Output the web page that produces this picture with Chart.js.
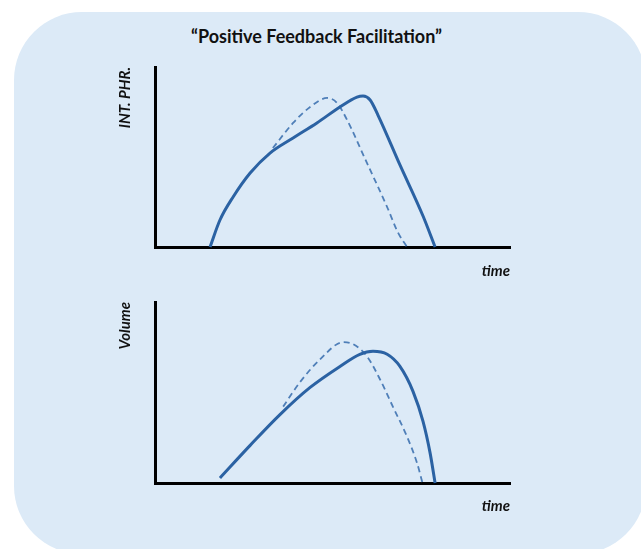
<!DOCTYPE html>
<html>
<head>
<meta charset="utf-8">
<script src="https://cdn.jsdelivr.net/npm/chart.js@4.4.1/dist/chart.umd.min.js"></script>
<style>
  html, body { margin: 0; padding: 0; background: #ffffff; }
  body { width: 641px; height: 549px; overflow: hidden; position: relative; }
  #panel {
    position: absolute; left: 14px; top: 12px; width: 632px; height: 542px;
    background: #dceaf7; border-radius: 68px;
  }
  #title {
    position: absolute; left: 0; top: 25px; width: 633px; text-align: center;
    font: bold 18px Lato, "Liberation Sans", sans-serif; color: #111;
  }
  canvas { position: absolute; left: 0; }
  #top { top: 55px; }
  #bottom { top: 290px; }
</style>
</head>
<body>
<div id="panel"></div>
<div id="title">“Positive Feedback Facilitation”</div>
<canvas id="top" width="641" height="235"></canvas>
<canvas id="bottom" width="641" height="235"></canvas>
<script>
// top panel: INT. PHR. vs time
const topSolidX = [15.5, 18.3, 22.0, 26.8, 32.4, 38.9, 45.6, 52.1, 56.9, 58.6, 60.6, 62.8, 69.0, 75.5, 78.9];
const topSolidY = [0, 15, 27.8, 41.1, 52.2, 60.6, 68.9, 77.8, 83.3, 83.9, 81.7, 73.3, 45.6, 17.2, 0];
const topDashX = [33.2, 38.9, 43.7, 48.5, 51.3, 54.1, 59.7, 65.4, 68.5, 71.0];
const topDashY = [55, 68.9, 77.8, 82.8, 80, 70.6, 46.7, 22.2, 7.8, 0];

// bottom panel: Volume vs time
const botSolidX = [18.3, 26.8, 35.2, 43.7, 52.1, 57.7, 61.4, 65.4, 69.0, 72.7, 75.5, 77.5, 78.9];
const botSolidY = [2.8, 20.8, 37.8, 52.8, 64.4, 71.1, 72.8, 71.1, 64.4, 50.5, 34, 16.5, 0];
const botDashX = [36.1, 40.8, 46.5, 53.0, 55.8, 59.7, 63.4, 67.0, 71.0, 73.8, 75.5];
const botDashY = [42.2, 55.6, 68.3, 77.8, 76.7, 70, 57.2, 42.2, 25.6, 11.1, -1.1];

const lineColor = '#2b62a3';
const pts = (xs, ys) => xs.map((x, i) => ({ x: x, y: ys[i] }));

function makeChart(id, yLabel, solid, dashed, xHeight) {
  return new Chart(id, {
    type: 'line',
    data: {
      datasets: [
        {
          data: solid,
          borderColor: lineColor,
          borderWidth: 3,
          pointRadius: 0,
          cubicInterpolationMode: 'monotone',
          fill: false,
          clip: false
        },
        {
          data: dashed,
          borderColor: '#4f7fb8',
          borderWidth: 1.8,
          borderDash: [6, 4],
          pointRadius: 0,
          cubicInterpolationMode: 'monotone',
          fill: false,
          clip: false
        }
      ]
    },
    options: {
      responsive: false,
      animation: false,
      devicePixelRatio: 1,
      layout: { padding: { left: 100, right: 131, top: 12, bottom: 0 } },
      plugins: { legend: { display: false }, tooltip: { enabled: false } },
      scales: {
        x: {
          type: 'linear', min: 0, max: 100,
          grid: { display: false },
          ticks: { display: false },
          border: { display: true, color: '#000', width: 3 },
          title: {
            display: true, text: 'time', align: 'end', color: '#111',
            font: { family: 'Lato', size: 15, style: 'italic', weight: 'bold' },
            padding: { top: 0, bottom: 10 }
          },
          afterFit: (s) => { s.height = xHeight; }
        },
        y: {
          min: 0, max: 100,
          grid: { display: false },
          ticks: { display: false },
          border: { display: true, color: '#000', width: 3 },
          title: {
            display: true, text: yLabel, align: 'end', color: '#111',
            font: { family: 'Lato', size: 15, style: 'italic', weight: 'bold' },
            padding: { top: 16, bottom: 0 }
          },
          afterFit: (s) => { s.width = 55; }
        }
      }
    }
  });
}

makeChart('top', 'INT. PHR.', pts(topSolidX, topSolidY), pts(topDashX, topDashY), 43);
makeChart('bottom', 'Volume', pts(botSolidX, botSolidY), pts(botDashX, botDashY), 42);
</script>
</body>
</html>
